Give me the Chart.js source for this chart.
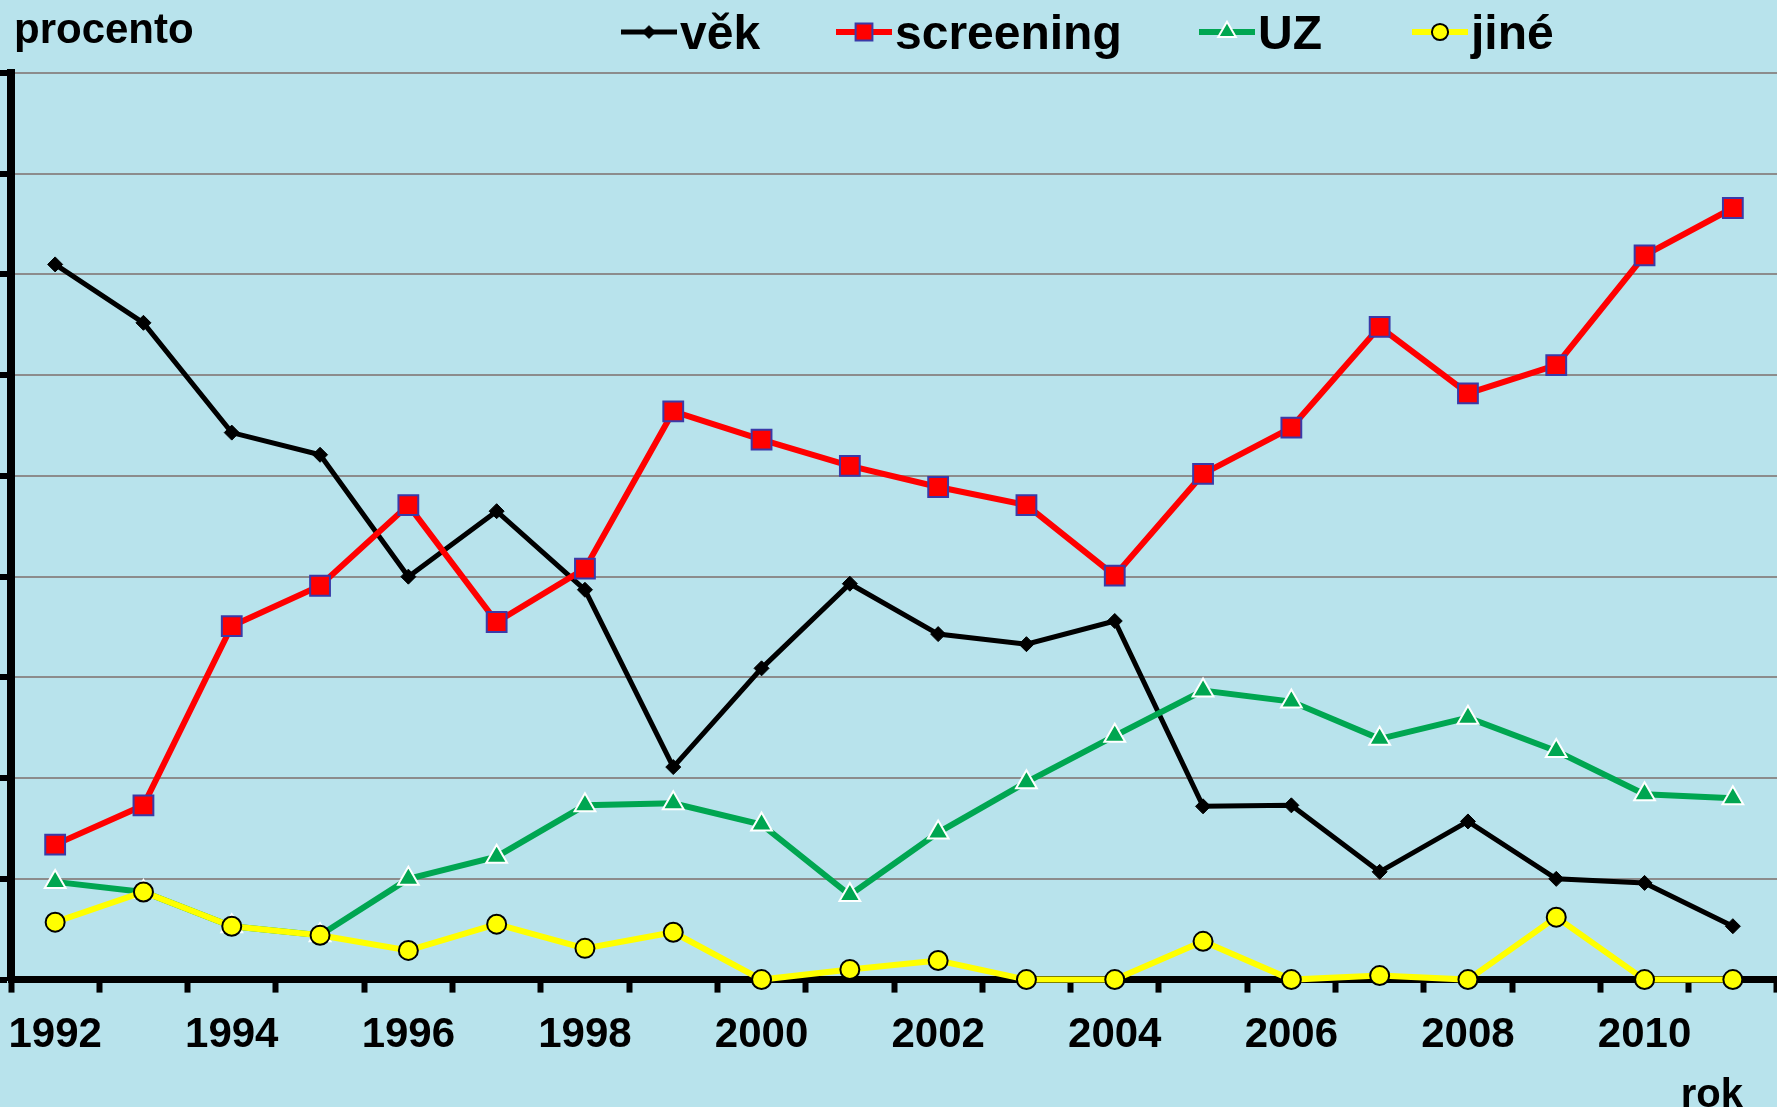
<!DOCTYPE html>
<html>
<head>
<meta charset="utf-8">
<script src="https://cdn.jsdelivr.net/npm/chart.js@4.4.0/dist/chart.umd.min.js"></script>
<style>
  html, body { margin: 0; padding: 0; background: #b8e3ec; }
  #wrap { width: 1777px; height: 1107px; }
</style>
</head>
<body>
<div id="wrap"><canvas id="grafChart" width="1777" height="1107"></canvas></div>
<script>
// data (percent)
const roky = ['1992','1993','1994','1995','1996','1997','1998','1999','2000','2001',
              '2002','2003','2004','2005','2006','2007','2008','2009','2010','2011'];
const vek       = [71.0, 65.2, 54.3, 52.1, 40.0, 46.5, 38.7, 21.1, 30.9, 39.3, 34.3, 33.3, 35.6, 17.2, 17.3, 10.7, 15.7, 10.0, 9.6, 5.3];
const screening = [13.4, 17.3, 35.1, 39.1, 47.1, 35.5, 40.8, 56.4, 53.6, 51.0, 48.9, 47.1, 40.1, 50.2, 54.8, 64.8, 58.2, 61.0, 71.9, 76.6];
const uz        = [9.7, 8.7, 5.3, 4.4, 10.0, 12.2, 17.3, 17.5, 15.4, 8.4, 14.6, 19.6, 24.2, 28.7, 27.6, 23.9, 26.0, 22.7, 18.4, 18.0];
const jine      = [5.7, 8.7, 5.3, 4.4, 2.9, 5.5, 3.1, 4.7, 0, 1.0, 1.9, 0, 0, 3.8, 0, 0.4, 0, 6.2, 0, 0];

const pismo = "'Liberation Sans', Arial, sans-serif";

// where the legend entries sit
const legendaX = [621, 836, 1199, 1412];

const pozadi = {
  id: 'pozadi',
  beforeDraw(chart) {
    const ctx = chart.ctx;
    ctx.save();
    ctx.fillStyle = '#b8e3ec';
    ctx.fillRect(0, 0, chart.width, chart.height);
    ctx.restore();
  }
};

const popisky = {
  id: 'popisky',
  afterDraw(chart) {
    const ctx = chart.ctx;
    ctx.save();
    ctx.fillStyle = '#000';
    ctx.textBaseline = 'alphabetic';
    ctx.font = 'bold 42px ' + pismo;
    ctx.textAlign = 'left';
    ctx.fillText('procento', 14, 43);
    ctx.font = 'bold 40px ' + pismo;
    ctx.textAlign = 'right';
    ctx.fillText('rok', 1743, 1107);

    // legend: line sample + marker + name
    ctx.font = 'bold 48px ' + pismo;
    ctx.textAlign = 'left';
    chart.data.datasets.forEach((ds, i) => {
      const x = legendaX[i], y = 32;
      ctx.strokeStyle = ds.borderColor;
      ctx.lineWidth = ds.borderWidth;
      ctx.beginPath();
      ctx.moveTo(x, y);
      ctx.lineTo(x + 56, y);
      ctx.stroke();
      ctx.fillStyle = ds.pointBackgroundColor;
      ctx.strokeStyle = ds.pointBorderColor;
      ctx.lineWidth = ds.pointBorderWidth;
      Chart.helpers.drawPoint(ctx, {
        pointStyle: ds.pointStyle, radius: ds.pointRadius * 0.85,
        borderWidth: ds.pointBorderWidth, rotation: 0
      }, x + 28, y);
      ctx.fillStyle = '#000';
      ctx.fillText(ds.label, x + 59, 49);
    });
    ctx.restore();
  }
};

new Chart(document.getElementById('grafChart'), {
  type: 'line',
  data: {
    labels: roky,
    datasets: [
      { label: 'věk', data: vek, order: 4, clip: false,
        borderColor: '#000000', borderWidth: 5, tension: 0,
        pointStyle: 'rectRot', pointRadius: 7.5,
        pointBackgroundColor: '#000000', pointBorderColor: '#000000', pointBorderWidth: 1 },
      { label: 'screening', data: screening, order: 3, clip: false,
        borderColor: '#ff0000', borderWidth: 6, tension: 0,
        pointStyle: 'rect', pointRadius: 14,
        pointBackgroundColor: '#ff0000', pointBorderColor: '#3a3aa8', pointBorderWidth: 2 },
      { label: 'UZ', data: uz, order: 2, clip: false,
        borderColor: '#00a651', borderWidth: 6, tension: 0,
        pointStyle: 'triangle', pointRadius: 12,
        pointBackgroundColor: '#00a651', pointBorderColor: '#ffffff', pointBorderWidth: 2 },
      { label: 'jiné', data: jine, order: 1, clip: false,
        borderColor: '#ffff00', borderWidth: 6, tension: 0,
        pointStyle: 'circle', pointRadius: 9.5,
        pointBackgroundColor: '#ffff00', pointBorderColor: '#000000', pointBorderWidth: 2 }
    ]
  },
  options: {
    responsive: false,
    animation: false,
    layout: { autoPadding: false, padding: { top: 73, left: 0, right: 0, bottom: 28 } },
    plugins: {
      legend: { display: false },
      tooltip: { enabled: false }
    },
    scales: {
      x: {
        offset: true,
        afterFit(scale) { scale.paddingLeft = 0; scale.paddingRight = 0; },
        grid: { offset: true, drawOnChartArea: false, tickLength: 13, tickColor: '#000', tickWidth: 6 },
        border: { color: '#000', width: 7 },
        ticks: {
          autoSkip: false, maxRotation: 0, padding: 18, color: '#000',
          font: { family: pismo, size: 42, weight: 'bold' },
          callback: function (v, i) { return i % 2 === 0 ? this.getLabelForValue(v) : ''; }
        }
      },
      y: {
        min: 0, max: 90,
        ticks: { stepSize: 10, display: false },
        grid: { color: '#8c8c8c', lineWidth: 2, tickLength: 11, tickColor: '#000', tickWidth: 6 },
        border: { color: '#000', width: 8 }
      }
    }
  },
  plugins: [pozadi, popisky]
});
</script>
</body>
</html>
